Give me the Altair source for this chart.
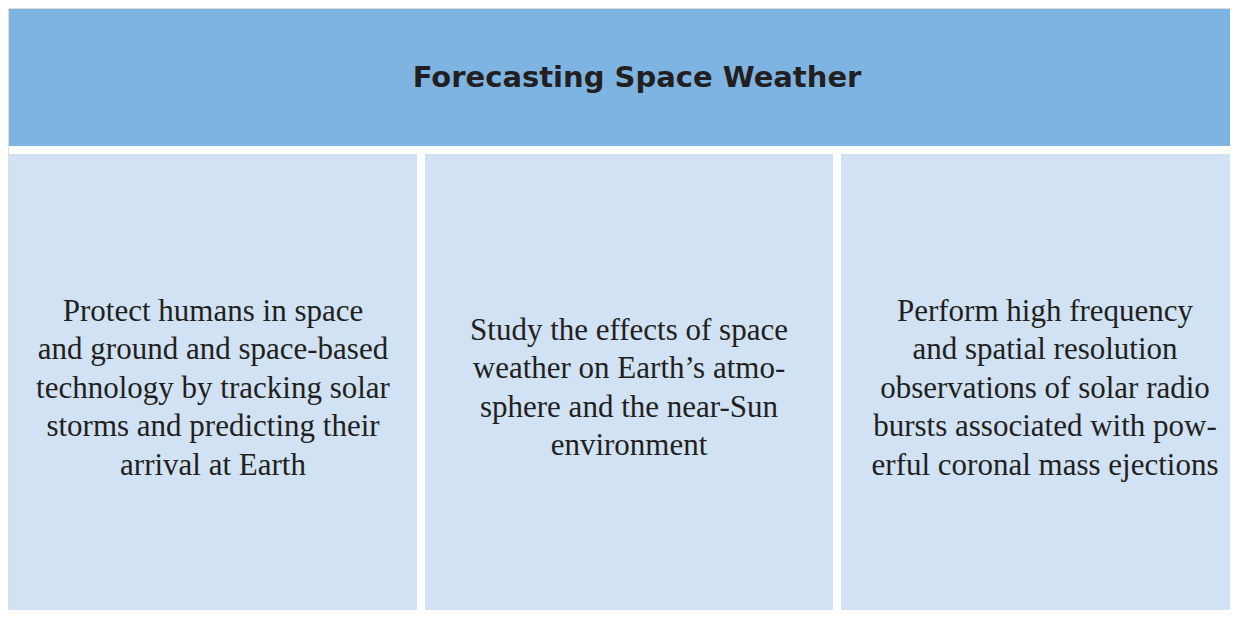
import altair as alt
import pandas as pd

title_text = "Forecasting Space Weather"
panels = ["A", "B", "C"]
panel_lines = [
    ["Protect humans in space", "and ground and space-based", "technology by tracking solar",
     "storms and predicting their", "arrival at Earth"],
    ["Study the effects of space", "weather on Earth\u2019s atmo-", "sphere and the near-Sun",
     "environment"],
    ["Perform high frequency", "and spatial resolution", "observations of solar radio",
     "bursts associated with pow-", "erful coronal mass ejections"],
]

df = pd.DataFrame({"panel": panels, "lines": panel_lines})

HEADER = "#7EB4E2"
BOX = "#D0E2F3"
INK = "#231F20"
LINE_H = 38.5

xscale = alt.Scale(domain=panels, range=[1, 1241], paddingInner=8 / 416, paddingOuter=0)

header = alt.Chart(pd.DataFrame({"t": [title_text]})).mark_rect(color=HEADER, clip=True).encode(
    x=alt.value(1), x2=alt.value(1240), y=alt.value(1), y2=alt.value(138)
)
title = alt.Chart(pd.DataFrame({"t": [title_text]})).mark_text(
    font="DejaVu Sans", fontWeight="bold", fontSize=29, color=INK,
    align="center", baseline="middle"
).encode(x=alt.value(629), y=alt.value(70), text="t:N")

boxes = alt.Chart(df).mark_rect(color=BOX, clip=True).encode(
    x=alt.X("panel:N", scale=xscale, axis=None),
    y=alt.value(146), y2=alt.value(620)
)
texts = alt.Chart(df).transform_calculate(
    ytop=f"380.5 - (length(datum.lines) - 1) * {LINE_H} / 2"
).mark_text(
    font="Liberation Serif", fontSize=31, color=INK, align="center",
    baseline="middle", lineHeight=LINE_H
).encode(
    x=alt.X("panel:N", scale=xscale, axis=None),
    y=alt.Y("ytop:Q", scale=None),
    text="lines"
)

chart = alt.layer(header, title, boxes, texts).properties(
    width=1222, height=602, padding=0
).configure_view(stroke=None).configure(background="white")

chart.save("out.html", embed_options={"renderer": "svg", "actions": False})
